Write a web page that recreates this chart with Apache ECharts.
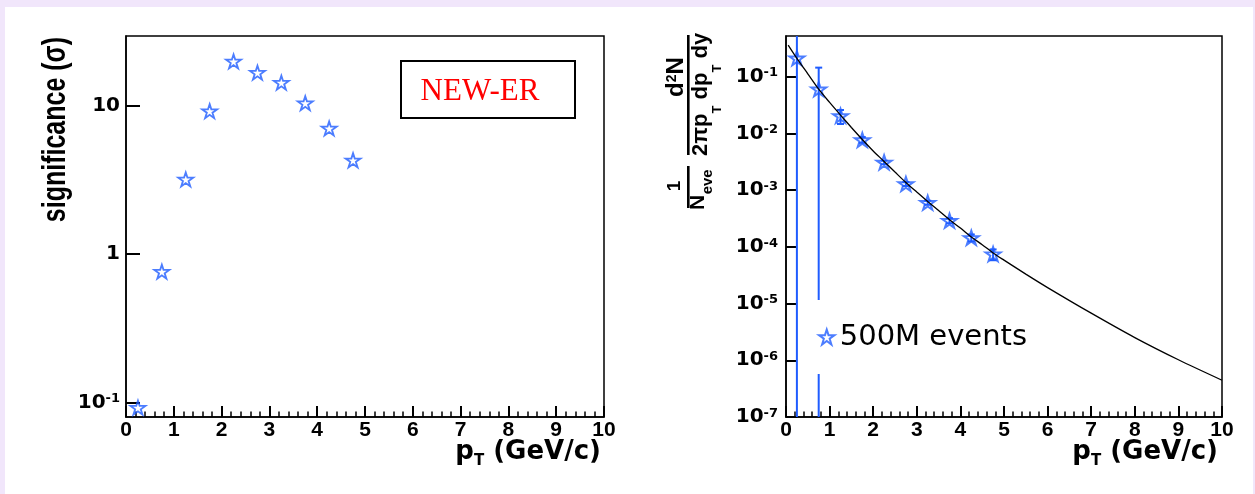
<!DOCTYPE html>
<html><head><meta charset="utf-8">
<script src="https://cdn.jsdelivr.net/npm/echarts@6/dist/echarts.min.js"></script>
<style>
html,body{margin:0;padding:0;background:#f1e6fb;}
#wrap{position:relative;width:1255px;height:494px;background:#f1e6fb;overflow:hidden;}
#panel{position:absolute;left:5px;top:7px;width:1248px;height:487px;background:#fff;}
#chart{position:absolute;left:0;top:0;width:1255px;height:494px;}
</style></head><body>
<div id="wrap"><div id="panel"></div><div id="chart"></div></div>
<script>
// ---- data ----
const ptBins = [0.25, 0.75, 1.25, 1.75, 2.25, 2.75, 3.25, 3.75, 4.25, 4.75];
const significance = [0.0925, 0.762, 3.19, 9.2, 19.9, 16.7, 14.3, 10.4, 7.03, 4.29];
const yieldValues = [0.211, 0.060, 0.0203, 0.00764, 0.00308, 0.00128, 0.000599, 0.000288, 0.000144, 0.0000743];
const yieldErrLow = [1e-9, 5e-8, 0.0146, 0.0068, 0.00285, 0.00118, 0.00055, 0.00026, 0.000125, 0.000058];
const yieldErrHigh = [10, 0.144, 0.0258, 0.0086, 0.0033, 0.00139, 0.00065, 0.00032, 0.000165, 0.00009];
const fitPt = [0.05, 0.25, 0.5, 0.75, 1, 1.25, 1.5, 1.75, 2, 2.25, 2.5, 2.75, 3, 3.25, 3.5, 3.75, 4, 4.25, 4.5, 4.75, 5, 5.5, 6, 7, 8, 9, 10];
const fitValues = [0.36, 0.21, 0.112, 0.060, 0.0351, 0.021, 0.0127, 0.0078, 0.00489, 0.0032, 0.00208, 0.00136, 0.000923, 0.00063, 0.000435, 0.0003, 0.000214, 0.000149, 0.000109, 0.000078, 0.0000582, 0.000033, 0.0000191, 0.00000676, 0.00000251, 0.00000102, 0.000000445];

// ---- axis ticks / labels / titles ----
const xTickLabels = ['0','1','2','3','4','5','6','7','8','9','10'];
const leftMajor = [0.1, 1, 10];
const leftMajorLabels = ['{b|10}{s|-1}', '{b|1}', '{b|10}'];
const rightMajor = [1e-7, 1e-6, 1e-5, 1e-4, 1e-3, 1e-2, 1e-1];
const rightMajorLabels = ['{b|10}{s|-7}', '{b|10}{s|-6}', '{b|10}{s|-5}', '{b|10}{s|-4}', '{b|10}{s|-3}', '{b|10}{s|-2}', '{b|10}{s|-1}'];
const leftYTitle = 'significance (σ)';
const legendName = '500M events';
const boxText = 'NEW-ER';
const denomParts = [['2πp', 'm'], ['T', 's'], [' dp', 'm'], ['T', 's'], [' dy', 'm']];

const blue = '#1f5cff';
const starPath = 'path://M50,2 L61,37 L98,37 L68,59 L79,95 L50,73 L21,95 L32,59 L2,37 L39,37 Z';

const mctx = document.createElement('canvas').getContext('2d');
function tw(text, font) { mctx.font = font; return mctx.measureText(text).width; }
const F = px => 'bold ' + px + 'px "Liberation Sans"';

function pickLabel(values, labels) {
  return function (v) {
    for (let i = 0; i < values.length; i++) {
      if (Math.abs(Math.log10(v) - Math.log10(values[i])) < 1e-6) return labels[i];
    }
    return '';
  };
}
const yRich = {
  b: {fontFamily: 'DejaVu Sans', fontWeight: 'bold', fontSize: 20, lineHeight: 20, padding: [4, 0, 0, 0], verticalAlign: 'bottom', color: '#000'},
  s: {fontFamily: 'DejaVu Sans', fontWeight: 'bold', fontSize: 13, lineHeight: 13, verticalAlign: 'top', color: '#000'}
};
const xNameRich = {
  m: {fontFamily: 'DejaVu Sans', fontWeight: 'bold', fontSize: 26, lineHeight: 30, padding: [0, 0, 7, 0], verticalAlign: 'top', color: '#000'},
  s: {fontFamily: 'DejaVu Sans', fontWeight: 'bold', fontSize: 15, lineHeight: 15, verticalAlign: 'bottom', color: '#000'}
};

function xAxisFor(gridIndex, nameGap) {
  return {
    gridIndex: gridIndex, type: 'value', min: 0, max: 10, interval: 1,
    axisLine: {show: true, onZero: false, lineStyle: {color: '#000', width: 1.5}},
    axisTick: {show: true, inside: true, length: 11, lineStyle: {color: '#000', width: 2}},
    minorTick: {show: true, splitNumber: 5, length: 5.5, lineStyle: {color: '#000', width: 1.5}},
    splitLine: {show: false},
    axisLabel: {margin: 3, color: '#000', fontFamily: 'Liberation Sans', fontWeight: 'bold', fontSize: 21,
      formatter: v => xTickLabels[Math.round(v)]},
    name: '{m|p}{s|T}{m| (GeV/c)}', nameLocation: 'end', nameGap: nameGap, nameMoveOverlap: false,
    nameTextStyle: {align: 'right', verticalAlign: 'top', padding: [22, 0, 0, 0], rich: xNameRich}
  };
}
function yAxisFor(gridIndex, min, max, major, labels, len, margin) {
  return {gridIndex: gridIndex, type: 'log', min: min, max: max,
    axisLine: {show: true, lineStyle: {color: '#000', width: 1.5}},
    axisTick: {show: true, inside: true, length: len, customValues: major, lineStyle: {color: '#000', width: 2}},
    axisLabel: {customValues: major, margin: margin, formatter: pickLabel(major, labels), rich: yRich},
    splitLine: {show: false}};
}

function renderErrorBars(params, api) {
  const x = api.value(0), lo = api.value(1), hi = api.value(2);
  const cs = params.coordSys;
  const top = cs.y, bottom = cs.y + cs.height;
  const pHi = api.coord([x, hi]), pLo = api.coord([x, lo]);
  const w = 3.5;
  const children = [{type: 'line', shape: {x1: pHi[0], y1: Math.max(top, pHi[1]), x2: pHi[0], y2: Math.min(bottom, pLo[1])}, style: {stroke: blue, lineWidth: 2}}];
  if (pHi[1] >= top) children.push({type: 'line', shape: {x1: pHi[0] - w, y1: pHi[1], x2: pHi[0] + w, y2: pHi[1]}, style: {stroke: blue, lineWidth: 2}});
  if (pLo[1] <= bottom) children.push({type: 'line', shape: {x1: pLo[0] - w, y1: pLo[1], x2: pLo[0] + w, y2: pLo[1]}, style: {stroke: blue, lineWidth: 2}});
  return {type: 'group', children: children};
}

function txt(text, u, v, font, align) {
  const a = align || 'left';
  return {type: 'text', x: u, y: v, style: {text: text, font: font, fill: '#000', align: a, verticalAlign: 'middle', textAlign: a, textVerticalAlign: 'middle'}};
}
function bar(u1, u2) {
  return {type: 'line', shape: {x1: u1, y1: 0, x2: u2, y2: 0}, style: {stroke: '#000', lineWidth: 2.6}};
}
const rTitle = [];
rTitle.push(bar(2, 44));
rTitle.push(txt('1', 24, -14, F(19), 'center'));
rTitle.push(txt('N', 0, 10, F(21)));
rTitle.push(txt('eve', tw('N', F(21)) + 0.5, 19.7, F(15)));
rTitle.push(bar(55, 175));
(function () {
  const W = tw('d', F(24)) + tw('2', F(14)) + tw('N', F(24));
  let u = 133 - W / 2;
  rTitle.push(txt('d', u, -11.5, F(24))); u += tw('d', F(24));
  rTitle.push(txt('2', u, -16.5, F(14))); u += tw('2', F(14));
  rTitle.push(txt('N', u, -11.5, F(24)));
  u = 54;
  denomParts.forEach(function (p) {
    const f = p[1] === 'm' ? F(22) : F(13);
    rTitle.push(txt(p[0], u, p[1] === 'm' ? 12.2 : 29.5, f));
    u += tw(p[0], f);
  });
})();

const chart = echarts.init(document.getElementById('chart'));
chart.setOption({
  animation: false,
  grid: [
    {left: 126, top: 36, width: 478, height: 381, show: true, borderColor: '#000', borderWidth: 1.5, outerBoundsMode: 'none'},
    {left: 786, top: 36, width: 436, height: 381, show: true, borderColor: '#000', borderWidth: 1.5, outerBoundsMode: 'none'}
  ],
  xAxis: [xAxisFor(0, -3), xAxisFor(1, -4)],
  yAxis: [
    yAxisFor(0, 0.08, 29.5, leftMajor, leftMajorLabels, 14, 6),
    yAxisFor(1, 1e-7, 0.52, rightMajor, rightMajorLabels, 11, 8)
  ],
  legend: {
    data: [{name: legendName, icon: starPath}],
    left: 808, top: 300, backgroundColor: '#fff',
    padding: [20, 36, 20, 10], itemWidth: 16, itemHeight: 15, selectedMode: false,
    textStyle: {fontFamily: 'DejaVu Sans', fontSize: 29, lineHeight: 34, color: '#000'}
  },
  series: [
    {name: 'significance', type: 'scatter', xAxisIndex: 0, yAxisIndex: 0,
      data: ptBins.map((x, i) => [x, significance[i]]),
      symbol: starPath, symbolSize: [15, 14],
      itemStyle: {color: 'rgba(255,255,255,0)', borderColor: blue, borderWidth: 1.8}},
    {name: 'fit', type: 'line', xAxisIndex: 1, yAxisIndex: 1,
      data: fitPt.map((x, i) => [x, fitValues[i]]),
      smooth: 0.3, symbol: 'none', lineStyle: {color: '#000', width: 1.3}},
    {name: legendName, type: 'scatter', xAxisIndex: 1, yAxisIndex: 1,
      data: ptBins.map((x, i) => [x, yieldValues[i]]),
      symbol: starPath, symbolSize: [15, 14],
      itemStyle: {color: 'rgba(255,255,255,0)', borderColor: blue, borderWidth: 2}},
    {name: 'errors', type: 'custom', xAxisIndex: 1, yAxisIndex: 1,
      data: ptBins.map((x, i) => [x, yieldErrLow[i], yieldErrHigh[i]]),
      encode: {x: 0, y: [1, 2]}, renderItem: renderErrorBars}
  ],
  graphic: [
    {type: 'rect', shape: {x: 401, y: 61, width: 174, height: 57}, style: {fill: '#fff', stroke: '#000', lineWidth: 2}, z: 10},
    {type: 'text', x: 480, y: 92, z: 11, style: {text: boxText, fill: '#ff0000', font: '31px "Liberation Serif"', align: 'center', verticalAlign: 'middle', textAlign: 'center', textVerticalAlign: 'middle'}},
    {type: 'group', x: 55.2, y: 37, rotation: Math.PI / 2, scaleY: 1.35, z: 10, children: [
      txt(leftYTitle, 0, 0, F(25), 'right')
    ]},
    {type: 'group', x: 688.3, y: 210, rotation: Math.PI / 2, z: 10, children: rTitle}
  ]
});
</script>
</body></html>
